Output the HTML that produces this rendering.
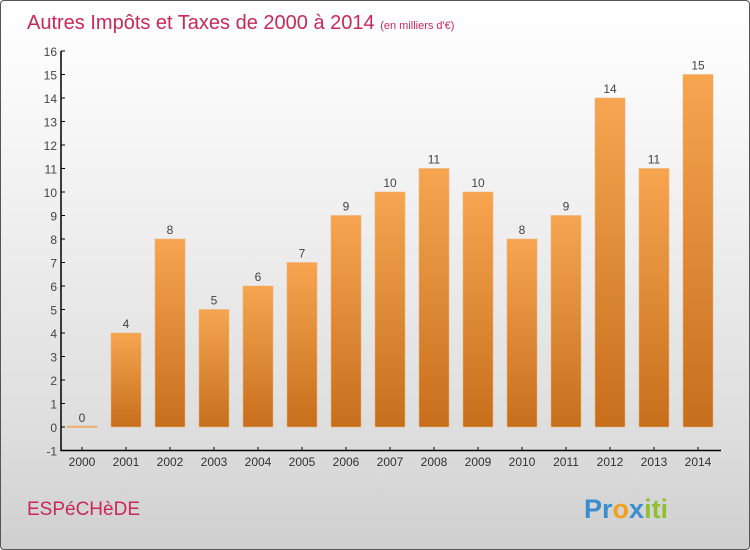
<!DOCTYPE html>
<html><head><meta charset="utf-8"><style>
body{margin:0}
#c{position:relative;width:748px;height:548px;border:1px solid #555;border-radius:4px;background:linear-gradient(#fff,#fafafa 15%,#ddd 80%,#cfcfcf);overflow:hidden;font-family:"Liberation Sans",sans-serif}
</style></head><body>
<div id="c">
<svg width="748" height="548">
<defs><linearGradient id="g" x1="0" y1="0" x2="0" y2="1"><stop offset="0" stop-color="#f7a550"/><stop offset="1" stop-color="#c66f1c"/></linearGradient></defs>
<text x="26" y="28" font-size="20" fill="#c8285a">Autres Impôts et Taxes de 2000 à 2014 <tspan font-size="11">(en milliers d'€)</tspan></text>
<g id="plot"></g>
<text x="26" y="514" font-size="19" fill="#c8285a">ESPéCHèDE</text>
<text x="583" y="517" font-size="27" font-weight="bold"><tspan fill="#3a8ed0">Pr</tspan><tspan fill="#f0a020">o</tspan><tspan fill="#3a8ed0">x</tspan><tspan fill="#90c030">iti</tspan></text>
</svg></div>
<script>
const years=["2000","2001","2002","2003","2004","2005","2006","2007","2008","2009","2010","2011","2012","2013","2014"];
const values=[0,4,8,5,6,7,9,10,11,10,8,9,14,11,15];
const yTicks=[-1,0,1,2,3,4,5,6,7,8,9,10,11,12,13,14,15,16];
const NS="http://www.w3.org/2000/svg";
const g=document.getElementById('plot');
const y=v=>426-(v)*23.5;
const x=i=>81+i*44;
function mk(t,a){const e=document.createElementNS(NS,t);for(const k in a)e.setAttribute(k,a[k]);g.appendChild(e);return e;}
let ax=mk('path',{d:`M60 50V449.5H720`,stroke:'#000',fill:'none','stroke-width':1.5});


yTicks.forEach(v=>{
 const t=mk('line',{x1:60,x2:64,y1:y(v),y2:y(v),stroke:'#000'});
 
 
 const l=mk('text',{x:56,y:y(v)+5,'text-anchor':'end','font-size':12,fill:'#444'});
 l.textContent=v;
 
 
});
years.forEach((yr,i)=>{
 const v=values[i];
 const t=mk('line',{x1:x(i),x2:x(i),y1:446,y2:450,stroke:'#000'});
 
 
 const l=mk('text',{x:x(i),y:465,'text-anchor':'middle','font-size':12,fill:'#333'});
 l.textContent=yr;
 
 
 const h=Math.max(y(0)-y(v),1.5);
 const b=mk('rect',{x:x(i)-15,y:y(v)-(v==0?1:0),width:30,height:h,fill:v==0?'#f2a868':'url(#g)',stroke:'#f0b070','stroke-width':0.5});
 
 
 const vl=mk('text',{x:x(i),y:y(v)-5,'text-anchor':'middle','font-size':12,fill:'#444'});
 vl.textContent=v;
 
 
});
</script>
</body></html>
